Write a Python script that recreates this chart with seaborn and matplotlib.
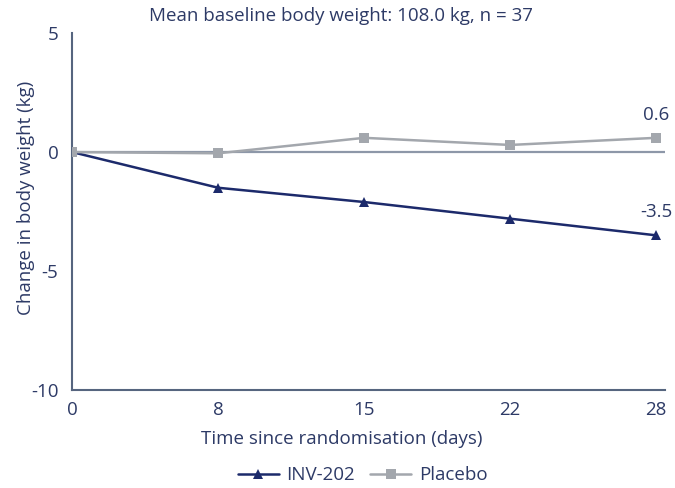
import pandas as pd
import seaborn as sns
import matplotlib.pyplot as plt

days = [0, 8, 15, 22, 28]
inv202 = [0.0, -1.5, -2.1, -2.8, -3.5]
placebo = [0.0, -0.05, 0.6, 0.3, 0.6]

title = "Mean baseline body weight: 108.0 kg, n = 37"
navy = "#1c2a6b"
grey = "#a3a7ad"
axis_col = "#56657f"
text_col = "#2d3a66"
fs = 13.5

sns.set_theme(style="white")
plt.rcParams['font.family'] = ['Open Sans', 'DejaVu Sans']
plt.rcParams['axes.unicode_minus'] = False

pos = list(range(len(days)))
df = pd.DataFrame({
    'pos': pos * 2,
    'change': inv202 + placebo,
    'group': ['INV-202'] * len(days) + ['Placebo'] * len(days),
})

fig = plt.figure(figsize=(6.75, 4.88), dpi=100)
ax = fig.add_axes([0.107, 0.201, 0.878, 0.731])

ax.axhline(0, color="#8d97a8", lw=1.6, zorder=1)
sns.lineplot(data=df, x='pos', y='change', hue='group', style='group',
             markers={'INV-202': '^', 'Placebo': 's'}, dashes=False,
             palette={'INV-202': navy, 'Placebo': grey},
             hue_order=['INV-202', 'Placebo'], markersize=7, markeredgewidth=0,
             linewidth=1.8, ax=ax, zorder=3)

ax.set_xlim(0, 4.06)
ax.set_ylim(-10, 5)
ax.set_xticks(pos)
ax.set_xticklabels([str(d) for d in days])
ax.set_yticks([-10, -5, 0, 5])
ax.tick_params(axis='both', length=0, labelsize=fs, colors=text_col)
ax.tick_params(axis='x', pad=8)
ax.tick_params(axis='y', pad=10)

for s in ['top', 'right']:
    ax.spines[s].set_visible(False)
for s in ['left', 'bottom']:
    ax.spines[s].set_color(axis_col)
    ax.spines[s].set_linewidth(1.5)

ax.set_xlabel("Time since randomisation (days)", fontsize=fs, color=text_col)
ax.set_ylabel("Change in body weight (kg)", fontsize=fs, color=text_col)
ax.xaxis.set_label_coords(0.455, -0.113)
ax.yaxis.set_label_coords(-0.063, 0.538)

ax.annotate(f"{placebo[-1]:.1f}", (pos[-1], placebo[-1]), xytext=(0, 10),
            textcoords='offset points', ha='center', va='bottom', fontsize=fs, color=text_col)
ax.annotate(f"{inv202[-1]:.1f}", (pos[-1], inv202[-1]), xytext=(0, 10),
            textcoords='offset points', ha='center', va='bottom', fontsize=fs, color=text_col)

fig.text(0.505, 0.968, title, ha='center', va='center', fontsize=fs, color=text_col)

handles, labels = ax.get_legend_handles_labels()
ax.legend(handles, labels, loc='center', bbox_to_anchor=(0.537, 0.026),
          bbox_transform=fig.transFigure, ncol=2, frameon=False, fontsize=fs,
          handlelength=2.2, columnspacing=0.8, handletextpad=0.4, labelcolor=text_col)

fig.savefig("out.png", dpi=100)
